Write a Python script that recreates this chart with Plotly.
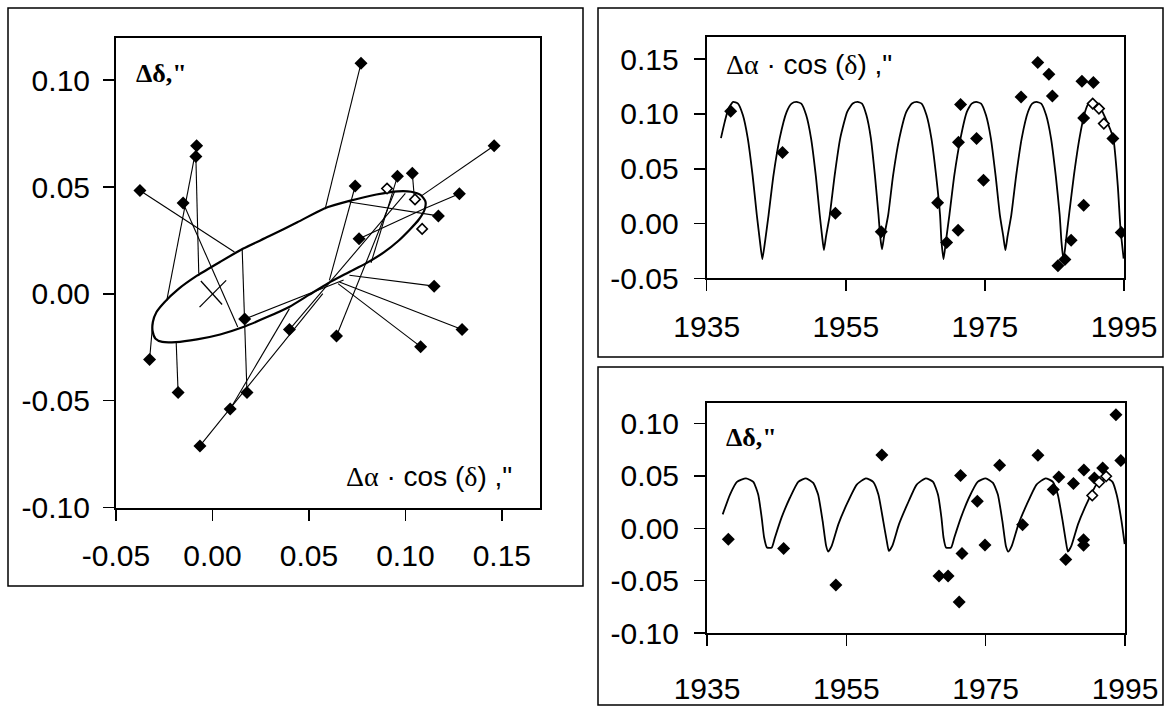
import plotly.graph_objects as go

W, H = 1169, 709

# ---------------- Left panel: apparent orbit ----------------
obs_x = [0.0643, 0.0092, -0.0082, 0.0179, -0.0178, -0.0065, 0.1079, 0.0740, 0.0760, 0.0399,
         0.1149, 0.1460, 0.1171, -0.0376, -0.0326, -0.0152, 0.0167, 0.0959, 0.1294, 0.1280,
         0.1036, 0.0770, -0.0086]
obs_y = [-0.0197, -0.0539, 0.0693, -0.0462, -0.0462, -0.0712, -0.0247, 0.0505, 0.0258, -0.0167,
         0.0036, 0.0693, 0.0365, 0.0484, -0.0307, 0.0425, -0.0118, 0.0550, -0.0167, 0.0469,
         0.0564, 0.1079, 0.0643]
model_x = [0.0945, 0.0399, -0.0237, 0.0154, -0.0188, 0.0572, 0.0651, 0.0606, 0.1100, 0.1000,
           0.0710, 0.1085, 0.0710, 0.0114, -0.0309, 0.0131, 0.0680, 0.0822, 0.0658, 0.1100,
           0.1047, 0.0584, -0.0071]
model_y = [0.0480, -0.0069, -0.0032, 0.0212, -0.0226, 0.0001, 0.0048, 0.0063, 0.0400, 0.0470,
           0.0087, 0.0460, 0.0430, 0.0196, -0.0132, -0.0155, 0.0065, 0.0145, 0.0055, 0.0400,
           0.0446, 0.0397, 0.0095]
open_x = [0.0905, 0.1050, 0.1087]
open_y = [0.0493, 0.0442, 0.0304]

orbit_x = [-0.0309, -0.0290, -0.0250, -0.0180, -0.0080, 0.0040, 0.0160, 0.0290, 0.0440, 0.0580,
           0.0710, 0.0850, 0.0960, 0.1030, 0.1080, 0.1104, 0.1100, 0.1070, 0.1020, 0.0960,
           0.0890, 0.0800, 0.0700, 0.0600, 0.0500, 0.0400, 0.0280, 0.0160, 0.0040, -0.0080,
           -0.0190, -0.0260, -0.0295, -0.0310, -0.0309]
orbit_y = [-0.0132, -0.0085, -0.0040, 0.0020, 0.0085, 0.0150, 0.0212, 0.0268, 0.0335, 0.0400,
           0.0435, 0.0465, 0.0480, 0.0478, 0.0462, 0.0432, 0.0395, 0.0348, 0.0298, 0.0245,
           0.0195, 0.0145, 0.0098, 0.0050, -0.0005, -0.0060, -0.0110, -0.0155, -0.0190, -0.0213,
           -0.0226, -0.0225, -0.0210, -0.0175, -0.0132]

cross_x = [-0.0067, 0.0071, None, -0.0060, 0.0050]
cross_y = [-0.0062, 0.0063, None, 0.0060, -0.0050]

left_xticks = [-0.05, 0.0, 0.05, 0.10, 0.15]
left_xticktext = ["-0.05", "0.00", "0.05", "0.10", "0.15"]
left_yticks = [-0.10, -0.05, 0.0, 0.05, 0.10]
left_yticktext = ["-0.10", "-0.05", "0.00", "0.05", "0.10"]

# ---------------- Top right: d_alpha*cos(delta) vs time ----------------
ra_t = [1938.45, 1945.9, 1953.5, 1960.1, 1968.2, 1969.5, 1971.5, 1971.2, 1971.15, 1973.8,
        1974.8, 1980.2, 1982.6, 1984.2, 1984.7, 1985.5, 1986.5, 1987.4, 1989.2, 1989.2,
        1988.95, 1990.6, 1993.4, 1994.6]
ra_v = [0.1025, 0.0648, 0.0094, -0.0076, 0.0189, -0.0173, 0.1086, 0.0742, -0.0061, 0.0776,
        0.0395, 0.1156, 0.1469, 0.1362, 0.1165, -0.0385, -0.0328, -0.0152, 0.0167, 0.0964,
        0.1299, 0.1287, 0.0776, -0.0082]
ra_open_t = [1990.5, 1991.4, 1992.1]
ra_open_v = [0.1095, 0.1049, 0.0912]

ra_curve_t = [1937.05, 1937.6, 1938.1, 1938.8, 1939.5, 1940.2, 1940.9, 1941.6, 1942.2, 1942.65,
              1943.0, 1943.4, 1943.9, 1944.6, 1945.5, 1946.5, 1947.2, 1947.9, 1948.6, 1949.3,
              1950.0, 1950.7, 1951.25, 1951.6, 1951.85, 1952.15, 1952.7, 1953.4, 1954.2, 1955.2,
              1956.0, 1956.7, 1957.33, 1957.96, 1958.6, 1959.2, 1959.7, 1959.95, 1960.2, 1960.5,
              1961.1, 1961.8, 1962.7, 1963.7, 1964.5, 1965.2, 1965.9, 1966.6, 1967.3, 1968.0,
              1968.55, 1968.75, 1969.05, 1969.4, 1969.9, 1970.6, 1971.5, 1972.4, 1973.1, 1973.75,
              1974.45, 1975.15, 1975.85, 1976.55, 1977.15, 1977.65, 1977.95, 1978.25, 1978.8, 1979.5,
              1980.3, 1981.2, 1981.8, 1982.4, 1983.1, 1983.8, 1984.5, 1985.2, 1985.75, 1986.0,
              1986.3, 1986.65, 1987.1, 1987.8, 1988.6, 1989.4, 1989.9, 1990.6, 1991.3, 1992.2,
              1993.45, 1994.1, 1994.5, 1994.95]
ra_curve_v = [0.078, 0.093, 0.1045, 0.111, 0.1095, 0.099, 0.078, 0.044, 0.008, -0.016,
              -0.0325, -0.016, 0.008, 0.044, 0.078, 0.102, 0.1095, 0.111, 0.1095, 0.099,
              0.078, 0.043, 0.008, -0.012, -0.0243, -0.012, 0.008, 0.044, 0.078, 0.102,
              0.1095, 0.111, 0.1095, 0.099, 0.078, 0.043, 0.008, -0.012, -0.0235, -0.012,
              0.008, 0.044, 0.078, 0.102, 0.1095, 0.111, 0.1095, 0.099, 0.078, 0.043,
              0.008, -0.016, -0.0325, -0.016, 0.008, 0.044, 0.078, 0.102, 0.1095, 0.111,
              0.1095, 0.099, 0.078, 0.043, 0.008, -0.012, -0.0243, -0.012, 0.008, 0.044,
              0.078, 0.102, 0.1095, 0.111, 0.1095, 0.099, 0.078, 0.043, 0.008, -0.016,
              -0.0334, -0.016, 0.008, 0.044, 0.078, 0.102, 0.1095, 0.111, 0.109, 0.098,
              0.078, 0.035, -0.005, -0.032]

ra_yticks = [-0.05, 0.0, 0.05, 0.10, 0.15]
ra_yticktext = ["-0.05", "0.00", "0.05", "0.10", "0.15"]
year_ticks = [1935, 1955, 1975, 1995]
year_ticktext = ["1935", "1955", "1975", "1995"]

# ---------------- Bottom right: d_delta vs time ----------------
de_t = [1938.06, 1946.0, 1953.5, 1960.1, 1968.3, 1969.6, 1971.2, 1971.4, 1971.6, 1973.8,
        1974.9, 1977.0, 1980.3, 1982.5, 1984.7, 1985.5, 1986.5, 1987.6, 1989.1, 1989.05,
        1989.05, 1990.6, 1991.8, 1993.7, 1994.4]
de_v = [-0.0105, -0.0193, -0.0542, 0.0700, -0.0455, -0.0455, -0.0704, 0.0505, -0.0240, 0.0258,
        -0.0160, 0.0602, 0.0035, 0.0697, 0.0371, 0.0491, -0.0298, 0.0427, 0.0556, -0.0110,
        -0.0161, 0.0480, 0.0577, 0.1084, 0.0647]
de_open_t = [1990.3, 1991.3, 1992.3]
de_open_v = [0.0314, 0.0440, 0.0497]

de_curve_t = [1937.25, 1938.3, 1939.3, 1940.6, 1941.65, 1942.35, 1942.85, 1943.2, 1943.6, 1944.3,
              1944.75, 1945.7, 1946.9, 1948.1, 1949.2, 1950.25, 1950.95, 1951.6, 1952.1, 1952.4,
              1952.9, 1953.85, 1955.05, 1956.5, 1957.8, 1958.85, 1959.6, 1960.3, 1960.8, 1961.1,
              1961.6, 1962.55, 1963.75, 1965.1, 1966.4, 1967.45, 1968.15, 1968.65, 1968.95, 1969.3,
              1970.05, 1970.5, 1971.45, 1972.6, 1973.85, 1975.0, 1976.05, 1976.75, 1977.4, 1977.9,
              1978.25, 1978.75, 1979.7, 1980.9, 1982.3, 1983.6, 1984.65, 1985.35, 1986.05, 1986.5,
              1986.8, 1987.3, 1988.25, 1989.45, 1990.9, 1992.4, 1993.2, 1993.8, 1994.5, 1994.95]
de_curve_v = [0.0133, 0.0323, 0.0444, 0.0478, 0.0444, 0.0323, 0.0102, -0.0088, -0.0183, -0.0183,
              -0.0088, 0.0102, 0.0292, 0.0444, 0.0478, 0.0434, 0.0323, 0.0069, -0.0168, -0.0222,
              -0.0168, 0.0038, 0.0228, 0.0418, 0.0478, 0.0444, 0.0323, 0.0069, -0.012, -0.0216,
              -0.0168, 0.0038, 0.0228, 0.0418, 0.0478, 0.0444, 0.0323, 0.0102, -0.0088, -0.0183,
              -0.0183, -0.0088, 0.0102, 0.0292, 0.0444, 0.0478, 0.0434, 0.0323, 0.0069, -0.0168,
              -0.0222, -0.0168, 0.0038, 0.0228, 0.0418, 0.0478, 0.0444, 0.0323, 0.0069, -0.012,
              -0.0222, -0.0168, 0.0038, 0.0228, 0.0418, 0.0478, 0.0444, 0.0323, 0.0069, -0.015]

de_yticks = [-0.10, -0.05, 0.0, 0.05, 0.10]
de_yticktext = ["-0.10", "-0.05", "0.00", "0.05", "0.10"]

# ---------------- build figure ----------------
def segs(ax, ay, bx, by):
    xs, ys = [], []
    for a, b, c, d in zip(ax, ay, bx, by):
        xs += [a, b, None]
        ys += [c, d, None]
    return xs, ys

seg_x, seg_y = segs(obs_x, model_x, obs_y, model_y)

BLACK = "black"
filled = dict(symbol="diamond", size=10, color=BLACK, line=dict(width=0))
hollow = dict(symbol="diamond", size=8, color="white", line=dict(color=BLACK, width=1.6))

fig = go.Figure()
fig.add_trace(go.Scatter(x=seg_x, y=seg_y, mode="lines", line=dict(color=BLACK, width=1.1),
                         xaxis="x", yaxis="y", hoverinfo="skip"))
fig.add_trace(go.Scatter(x=orbit_x, y=orbit_y, mode="lines", line=dict(color=BLACK, width=2.2, shape="spline", smoothing=0.6),
                         xaxis="x", yaxis="y"))
fig.add_trace(go.Scatter(x=cross_x, y=cross_y, mode="lines", line=dict(color=BLACK, width=1.3),
                         xaxis="x", yaxis="y"))
fig.add_trace(go.Scatter(x=obs_x, y=obs_y, mode="markers", marker=filled, xaxis="x", yaxis="y"))
fig.add_trace(go.Scatter(x=open_x, y=open_y, mode="markers", marker=hollow, xaxis="x", yaxis="y"))

fig.add_trace(go.Scatter(x=ra_curve_t, y=ra_curve_v, mode="lines", line=dict(color=BLACK, width=1.8, shape="spline", smoothing=0.5),
                         xaxis="x2", yaxis="y2"))
fig.add_trace(go.Scatter(x=ra_t, y=ra_v, mode="markers", marker=filled, xaxis="x2", yaxis="y2"))
fig.add_trace(go.Scatter(x=ra_open_t, y=ra_open_v, mode="markers", marker=hollow, xaxis="x2", yaxis="y2"))

fig.add_trace(go.Scatter(x=de_curve_t, y=de_curve_v, mode="lines", line=dict(color=BLACK, width=1.8, shape="spline", smoothing=0.5),
                         xaxis="x3", yaxis="y3"))
fig.add_trace(go.Scatter(x=de_t, y=de_v, mode="markers", marker=filled, xaxis="x3", yaxis="y3"))
fig.add_trace(go.Scatter(x=de_open_t, y=de_open_v, mode="markers", marker=hollow, xaxis="x3", yaxis="y3"))

def px_x(p):
    return p / W

def px_y(p):
    return 1 - p / H

TICKFONT = dict(family="Liberation Sans, Arial, sans-serif", size=30, color=BLACK)

def axis_common(**kw):
    d = dict(showline=True, linecolor=BLACK, linewidth=2, mirror=True, ticks="outside",
             ticklen=11, tickwidth=1.5, tickcolor=BLACK, showgrid=False, zeroline=False,
             tickfont=TICKFONT, fixedrange=True, automargin=False)
    d.update(kw)
    return d

layout = dict(
    template="none",
    width=W, height=H, margin=dict(l=0, r=0, t=0, b=0, pad=0), autosize=False,
    paper_bgcolor="white", plot_bgcolor="white", showlegend=False,
    xaxis=axis_common(domain=[px_x(116), px_x(540.4)], range=[-0.05, 0.17],
                      tickvals=left_xticks, ticktext=left_xticktext, anchor="y", ticklabelstandoff=9),
    yaxis=axis_common(domain=[px_y(507.5), px_y(37.5)], range=[-0.10, 0.12],
                      tickvals=left_yticks, ticktext=left_yticktext, anchor="x", ticklabelstandoff=7),
    xaxis2=axis_common(domain=[px_x(706.7), px_x(1124)], range=[1935, 1995],
                       tickvals=year_ticks, ticktext=year_ticktext, anchor="y2", ticklabelstandoff=10),
    yaxis2=axis_common(domain=[px_y(278.3), px_y(37.3)], range=[-0.05, 0.17],
                       tickvals=ra_yticks, ticktext=ra_yticktext, anchor="x2", ticklabelstandoff=9),
    xaxis3=axis_common(domain=[px_x(707), px_x(1125)], range=[1935, 1995],
                       tickvals=year_ticks, ticktext=year_ticktext, anchor="y3", ticklabelstandoff=17),
    yaxis3=axis_common(domain=[px_y(633), px_y(402.7)], range=[-0.10, 0.12],
                       tickvals=de_yticks, ticktext=de_yticktext, anchor="x3", ticklabelstandoff=9),
)
fig.update_layout(**layout)

frames = [(8, 8, 583, 586), (598, 8, 1163, 357), (598, 367, 1163, 705)]
for x0, y0, x1, y1 in frames:
    fig.add_shape(type="rect", xref="paper", yref="paper",
                  x0=px_x(x0), x1=px_x(x1), y0=px_y(y1), y1=px_y(y0),
                  line=dict(color=BLACK, width=1.5), fillcolor="rgba(0,0,0,0)", layer="above")

SERIF = "Liberation Serif, Times New Roman, serif"
SANS = "Liberation Sans, Arial, sans-serif"
ddelta = '<b>Δδ,"</b>'
dalpha = ('<span style="font-family:Liberation Serif">Δα</span> · cos (<span style="font-family:Liberation Serif">δ</span>) ,"')

annos = [
    dict(text=ddelta, x=px_x(134), y=px_y(73), font=dict(family=SERIF, size=26, color=BLACK)),
    dict(text=dalpha, x=px_x(344), y=px_y(477), font=dict(family=SANS, size=28, color=BLACK)),
    dict(text=dalpha, x=px_x(724), y=px_y(65), font=dict(family=SANS, size=28, color=BLACK)),
    dict(text=ddelta, x=px_x(724), y=px_y(437), font=dict(family=SERIF, size=26, color=BLACK)),
]
for a in annos:
    fig.add_annotation(xref="paper", yref="paper", xanchor="left", yanchor="middle",
                       showarrow=False, **a)

fig.write_html(
    "out.html",
    config={"displayModeBar": False, "staticPlot": True},
    post_script="document.body.style.margin='0px';document.body.style.overflow='hidden';"
                "document.documentElement.style.overflow='hidden';",
)
